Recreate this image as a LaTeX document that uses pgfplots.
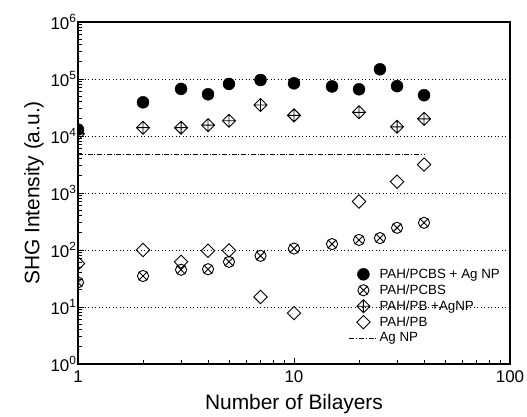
\documentclass[border=0pt]{standalone}
\usepackage{fontspec}
\setmainfont{Liberation Sans}
\usepackage{pgfplots}
\pgfplotsset{compat=1.18}
\usetikzlibrary{plotmarks}

\pgfdeclareplotmark{dplus}{%
  \pgfpathmoveto{\pgfqpoint{0pt}{\pgfplotmarksize}}%
  \pgfpathlineto{\pgfqpoint{\pgfplotmarksize}{0pt}}%
  \pgfpathlineto{\pgfqpoint{0pt}{-\pgfplotmarksize}}%
  \pgfpathlineto{\pgfqpoint{-\pgfplotmarksize}{0pt}}%
  \pgfpathclose
  \pgfpathmoveto{\pgfqpoint{0pt}{\pgfplotmarksize}}%
  \pgfpathlineto{\pgfqpoint{0pt}{-\pgfplotmarksize}}%
  \pgfpathmoveto{\pgfqpoint{-\pgfplotmarksize}{0pt}}%
  \pgfpathlineto{\pgfqpoint{\pgfplotmarksize}{0pt}}%
  \pgfusepathqstroke
}
\pgfdeclareplotmark{mydiamond}{%
  \pgfpathmoveto{\pgfqpoint{0pt}{\pgfplotmarksize}}%
  \pgfpathlineto{\pgfqpoint{\pgfplotmarksize}{0pt}}%
  \pgfpathlineto{\pgfqpoint{0pt}{-\pgfplotmarksize}}%
  \pgfpathlineto{\pgfqpoint{-\pgfplotmarksize}{0pt}}%
  \pgfpathclose
  \pgfusepathqstroke
}

\begin{document}
\begin{tikzpicture}
\begin{axis}[
  scale only axis, width=432bp, height=342bp,
  xmode=log, ymode=log,
  xmin=1, xmax=100, ymin=1, ymax=1e6,
  xtick={1,10,100}, xticklabels={1,10,100},
  ytick={1,10,100,1000,10000,100000,1000000},
  yticklabels={10\textsuperscript{0},10\textsuperscript{1},10\textsuperscript{2},10\textsuperscript{3},10\textsuperscript{4},10\textsuperscript{5},10\textsuperscript{6}},
  xtick pos=bottom, ytick pos=left, tick align=inside,
  major tick length=6.5bp, minor tick length=4bp,
  every tick/.style={black, line width=0.9bp},
  axis line style={line width=1.6bp},
  ymajorgrids,
  major grid style={black, line width=0.7bp, dash pattern=on 1bp off 2.5bp},
  tick label style={font=\fontsize{17}{20}\selectfont},
  xticklabel style={yshift=-3bp},
  yticklabel style={xshift=2bp},
  label style={font=\fontsize{21}{25}\selectfont},
  xlabel={Number of Bilayers}, ylabel={SHG Intensity (a.u.)},
  xlabel style={yshift=-5bp},
  clip marker paths=true,
  legend image code/.code={\draw[mark repeat=2,mark phase=2,#1] plot coordinates {(0bp,0bp)(14bp,0bp)(28bp,0bp)};},
  legend style={at={(rel axis cs:0.62,0.29)}, anchor=north west, draw=none, fill=none,
    font=\fontsize{13.4}{15}\selectfont, nodes={inner sep=1.7bp}, row sep=1.4bp},
  legend cell align=left,
]
\addplot[only marks, mark=*, mark size=6bp, black] coordinates {
 (1,13000)(2,39000)(3,67000)(4,54000)(5,82000)(7,96000)(10,84000)(15,74000)(20,66000)(25,148000)(30,75000)(40,52000)};
\addlegendentry{PAH/PCBS + Ag NP}
\addplot[only marks, mark=otimes, mark size=5.6bp, black, line width=0.9bp] coordinates {
 (1,27)(2,35)(3,45)(4,46)(5,62)(7,79)(10,106)(15,127)(20,150)(25,162)(30,245)(40,300)};
\addlegendentry{PAH/PCBS}
\addplot[only marks, mark=dplus, mark size=6.5bp, black, line width=0.9bp] coordinates {
 (1,11000)(2,14000)(3,14000)(4,15500)(5,18500)(7,35000)(10,23000)(20,26000)(30,14500)(40,20000)};
\addlegendentry{PAH/PB +AgNP}
\addplot[only marks, mark=mydiamond, mark size=6.7bp, black, line width=0.9bp] coordinates {
 (1,58)(2,100)(3,62)(4,97)(5,98)(7,15)(10,7.8)(20,710)(30,1580)(40,3150)};
\addlegendentry{PAH/PB}
\addplot[black, line width=0.8bp, dash pattern=on 5bp off 1.8bp on 1bp off 1.8bp] coordinates {(1,4800)(40,4800)};
\addlegendentry{Ag NP}
\end{axis}
\path (current axis.south west) ++(-78bp,-53bp) coordinate (A);
\path (current axis.north east) ++(17bp,22bp) coordinate (B);
\pgfresetboundingbox
\path[use as bounding box] (A) rectangle (B);
\end{tikzpicture}
\end{document}
